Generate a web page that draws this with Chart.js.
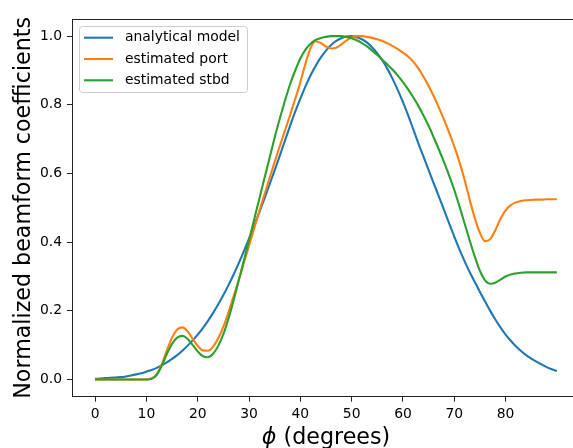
<!DOCTYPE html>
<html>
<head>
<meta charset="utf-8">
<script src="https://cdn.jsdelivr.net/npm/chart.js@4.4.0/dist/chart.umd.min.js"></script>
<style>
  html, body { margin: 0; padding: 0; overflow: hidden; background: #fff; }
  #wrap { width: 600px; height: 448px; }
</style>
</head>
<body>
<div id="wrap"><canvas id="beamChart" width="600" height="448"></canvas></div>
<script>
// phi in degrees
const phi = [
  0, 1, 2, 3, 4, 5, 6, 7, 8, 9,
  10, 11, 12, 13, 14, 15, 16, 17, 18, 19,
  20, 21, 22, 23, 24, 25, 26, 27, 28, 29,
  30, 31, 32, 33, 34, 35, 36, 37, 38, 39,
  40, 41, 42, 43, 44, 45, 46, 47, 48, 49,
  50, 51, 52, 53, 54, 55, 56, 57, 58, 59,
  60, 61, 62, 63, 64, 65, 66, 67, 68, 69,
  70, 71, 72, 73, 74, 75, 76, 77, 78, 79,
  80, 81, 82, 83, 84, 85, 86, 87, 88, 89,
  90
];

const analytical = [
  0.002, 0.003, 0.004, 0.005, 0.006, 0.007, 0.009, 0.012, 0.015, 0.018,
  0.023, 0.028, 0.034, 0.042, 0.050, 0.060, 0.071, 0.084, 0.098, 0.114,
  0.131, 0.150, 0.171, 0.194, 0.219, 0.246, 0.275, 0.306, 0.339, 0.374,
  0.410, 0.448, 0.487, 0.527, 0.568, 0.610, 0.652, 0.696, 0.739, 0.780,
  0.818, 0.854, 0.886, 0.914, 0.938, 0.958, 0.974, 0.986, 0.994, 0.999,
  1.000, 0.997, 0.991, 0.981, 0.967, 0.950, 0.929, 0.904, 0.875, 0.843,
  0.808, 0.770, 0.729, 0.688, 0.649, 0.610, 0.571, 0.533, 0.494, 0.455,
  0.416, 0.379, 0.345, 0.313, 0.284, 0.255, 0.227, 0.200, 0.175, 0.152,
  0.131, 0.113, 0.097, 0.083, 0.071, 0.061, 0.052, 0.044, 0.036, 0.030,
  0.025
];

const estPort = [
  0.000, 0.000, 0.000, 0.000, 0.000, 0.000, 0.000, 0.000, 0.000, 0.000,
  0.000, 0.003, 0.016, 0.045, 0.085, 0.122, 0.146, 0.152, 0.141, 0.119,
  0.098, 0.085, 0.084, 0.096, 0.120, 0.154, 0.196, 0.242, 0.290, 0.340,
  0.390, 0.440, 0.490, 0.539, 0.587, 0.634, 0.680, 0.725, 0.770, 0.817,
  0.866, 0.920, 0.966, 0.985, 0.980, 0.970, 0.964, 0.966, 0.976, 0.988,
  0.996, 1.000, 1.000, 0.998, 0.995, 0.991, 0.986, 0.979, 0.971, 0.962,
  0.952, 0.941, 0.926, 0.906, 0.882, 0.855, 0.825, 0.792, 0.757, 0.719,
  0.679, 0.634, 0.582, 0.524, 0.470, 0.427, 0.403, 0.409, 0.435, 0.468,
  0.493, 0.508, 0.516, 0.520, 0.522, 0.523, 0.524, 0.524, 0.525, 0.525,
  0.525
];

const estStbd = [
  0.000, 0.000, 0.000, 0.000, 0.000, 0.000, 0.000, 0.000, 0.000, 0.000,
  0.000, 0.002, 0.013, 0.040, 0.075, 0.104, 0.122, 0.127, 0.119, 0.101,
  0.082, 0.068, 0.065, 0.075, 0.098, 0.132, 0.178, 0.231, 0.289, 0.347,
  0.406, 0.466, 0.526, 0.586, 0.645, 0.705, 0.760, 0.812, 0.860, 0.900,
  0.935, 0.961, 0.978, 0.989, 0.995, 0.998, 1.000, 1.000, 1.000, 0.998,
  0.994, 0.988, 0.980, 0.970, 0.958, 0.945, 0.931, 0.917, 0.902, 0.885,
  0.866, 0.845, 0.822, 0.797, 0.769, 0.739, 0.705, 0.670, 0.633, 0.594,
  0.552, 0.505, 0.455, 0.405, 0.358, 0.316, 0.289, 0.279, 0.282, 0.291,
  0.300, 0.306, 0.309, 0.311, 0.312, 0.312, 0.312, 0.312, 0.312, 0.312,
  0.312
];

const xTicks = [0, 10, 20, 30, 40, 50, 60, 70, 80];
const yTicks = [0, 0.2, 0.4, 0.6, 0.8, 1.0];
const seriesNames = ['analytical model', 'estimated port', 'estimated stbd'];
const seriesColors = ['#1f77b4', '#ff7f0e', '#2ca02c'];
const xTitleSymbol = 'ϕ';
const xTitleRest = ' (degrees)';

const FONT = 'DejaVu Sans';
const INK = '#222';

function toPoints(ys) {
    return ys.map((y, i) => ({ x: phi[i], y: y }));
}

// top spine (matplotlib box)
const framePlugin = {
    id: 'frame',
    afterDraw(chart) {
        const { ctx, chartArea: a } = chart;
        ctx.save();
        ctx.strokeStyle = INK;
        ctx.lineWidth = 1;
        ctx.beginPath();
        ctx.moveTo(a.left, Math.round(a.top) + 0.5);
        ctx.lineTo(a.right, Math.round(a.top) + 0.5);
        ctx.moveTo(Math.round(a.right) + 0.5, a.top);
        ctx.lineTo(Math.round(a.right) + 0.5, a.bottom);
        ctx.stroke();
        ctx.restore();
    }
};

// x label with an italic phi, like mathtext
const xTitlePlugin = {
    id: 'xTitle',
    afterDraw(chart) {
        const { ctx, chartArea: a } = chart;
        const italic = 'italic 22.2px "' + FONT + '"';
        const upright = '22.2px "' + FONT + '"';
        ctx.save();
        ctx.font = italic;
        const w1 = ctx.measureText(xTitleSymbol).width;
        ctx.font = upright;
        const w2 = ctx.measureText(xTitleRest).width;
        let x = (a.left + a.right) / 2 - (w1 + w2) / 2;
        const y = chart.height - 4;
        ctx.fillStyle = '#000';
        ctx.textBaseline = 'alphabetic';
        ctx.textAlign = 'left';
        ctx.font = italic;
        ctx.fillText(xTitleSymbol, x, y);
        ctx.font = upright;
        ctx.fillText(xTitleRest, x + w1, y);
        ctx.restore();
    }
};

// legend in upper left, drawn like matplotlib's
const legendPlugin = {
    id: 'mplLegend',
    afterDraw(chart) {
        const { ctx, chartArea: a } = chart;
        const x0 = a.left + 7.5, y0 = a.top + 7.5;
        const w = 168, h = 66, r = 3;
        ctx.save();
        ctx.beginPath();
        ctx.roundRect(x0, y0, w, h, r);
        ctx.fillStyle = 'rgba(255,255,255,0.8)';
        ctx.fill();
        ctx.strokeStyle = '#cccccc';
        ctx.lineWidth = 1;
        ctx.stroke();
        ctx.font = '13.9px "' + FONT + '"';
        ctx.textBaseline = 'middle';
        ctx.textAlign = 'left';
        seriesNames.forEach((name, i) => {
            const cy = y0 + 11.2 + i * 21.3;
            ctx.strokeStyle = seriesColors[i];
            ctx.lineWidth = 2.1;
            ctx.beginPath();
            ctx.moveTo(x0 + 4.5, cy);
            ctx.lineTo(x0 + 33.5, cy);
            ctx.stroke();
            ctx.fillStyle = '#000';
            ctx.fillText(name, x0 + 45.5, cy);
        });
        ctx.restore();
    }
};

const beamChart = new Chart(document.getElementById('beamChart'), {
    type: 'line',
    data: {
        datasets: [analytical, estPort, estStbd].map((ys, i) => ({
            label: seriesNames[i],
            data: toPoints(ys),
            borderColor: seriesColors[i],
            backgroundColor: seriesColors[i],
            borderWidth: 2.1,
            pointRadius: 0,
            fill: false,
            cubicInterpolationMode: 'monotone',
            order: 3 - i
        }))
    },
    options: {
        responsive: false,
        animation: false,
        events: [],
        layout: { padding: { top: 19, right: 20, left: 0, bottom: 0 } },
        plugins: { legend: { display: false }, tooltip: { enabled: false } },
        scales: {
            x: {
                type: 'linear',
                min: -4.5,
                max: 94.5,
                afterBuildTicks: s => { s.ticks = xTicks.map(v => ({ value: v })); },
                afterFit: s => { s.height = 51.3; },
                ticks: {
                    autoSkip: false,
                    maxRotation: 0,
                    padding: 4,
                    color: '#000',
                    font: { family: FONT, size: 13.9 },
                    callback: v => String(v)
                },
                grid: { drawOnChartArea: false, drawTicks: true, tickLength: 5, tickColor: INK, tickWidth: 1 },
                border: { display: true, color: INK, width: 1 }
            },
            y: {
                type: 'linear',
                min: -0.05,
                max: 1.05,
                afterBuildTicks: s => { s.ticks = yTicks.map(v => ({ value: v })); },
                afterFit: s => { s.width = 72; },
                ticks: {
                    padding: 5,
                    color: '#000',
                    font: { family: FONT, size: 13.9 },
                    callback: v => v.toFixed(1)
                },
                grid: { drawOnChartArea: false, drawTicks: true, tickLength: 5, tickColor: INK, tickWidth: 1 },
                border: { display: true, color: INK, width: 1 },
                title: {
                    display: true,
                    text: 'Normalized beamform coefficients',
                    color: '#000',
                    font: { family: FONT, size: 22.2 },
                    padding: { top: 11, bottom: 0 }
                }
            }
        }
    },
    plugins: [framePlugin, xTitlePlugin, legendPlugin]
});
</script>
</body>
</html>
